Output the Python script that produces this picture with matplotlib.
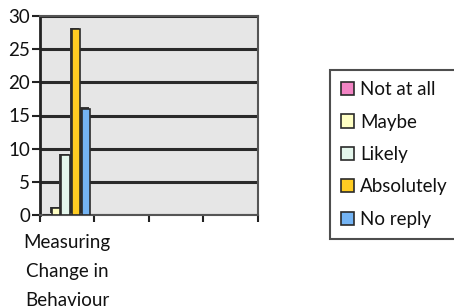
import matplotlib.pyplot as plt
import numpy as np

plt.rcParams['font.family'] = ['Lato', 'DejaVu Sans']

categories = ['Measuring\nChange in\nBehaviour', '', '', '']
series = ['Not at all', 'Maybe', 'Likely', 'Absolutely', 'No reply']
values = [0, 1, 9, 28, 16]
colors = ['#F284C4', '#FFFFC4', '#E4F6EC', '#FFCC22', '#74B4F4']
offsets = [0.13, 0.30, 0.47, 0.66, 0.85]

fig = plt.figure(figsize=(4.54, 3.08), dpi=100)
ax = fig.add_axes([0.088, 0.302, 0.48, 0.646])
ax.set_facecolor('#E6E6E6')

for name, v, c, off in zip(series, values, colors, offsets):
    # shadow for the 3d look
    ax.bar(off - 0.03, v, width=0.17, bottom=0.25, color='#3a3a3a', zorder=2)
    ax.bar(off, v, width=0.15, color=c, edgecolor='#2a2a2a', linewidth=1.2, zorder=3, label=name)

ax.set_xlim(0, len(categories))
ax.set_ylim(0, 30)
ax.set_yticks(range(0, 31, 5))
ax.set_xticks(range(len(categories) + 1))
ax.set_xticklabels([])
ax.set_xticks(np.arange(len(categories)) + 0.5, categories, minor=True)
ax.tick_params(axis='x', which='minor', length=0, pad=14, labelsize=13.5, labelcolor='#111')
ax.tick_params(axis='x', which='major', length=5, width=1.5, color='#222')
ax.tick_params(axis='y', length=6, width=1.5, color='#222', labelsize=13.5, labelcolor='#111', pad=1)
for lab in ax.get_xticklabels(minor=True):
    lab.set_linespacing(1.85)

ax.yaxis.grid(True, color='#2a2a2a', linewidth=2.2, zorder=1)
ax.set_axisbelow(True)
for s in ax.spines.values():
    s.set_color('#555')
    s.set_linewidth(1.5)
ax.spines['left'].set_color('#222')
ax.spines['left'].set_linewidth(2)

leg = fig.legend(loc='upper left', bbox_to_anchor=(0.727, 0.0, 0.3, 0.773), mode='expand',
                 fontsize=13.5, frameon=True, fancybox=False, edgecolor='#222',
                 handlelength=0.7, handleheight=0.7, handletextpad=0.3,
                 labelspacing=0.82, borderpad=0.6, borderaxespad=0)
leg.get_frame().set_linewidth(1.5)
for t in leg.get_texts():
    t.set_color('#111')

fig.savefig('out.png', dpi=100)
